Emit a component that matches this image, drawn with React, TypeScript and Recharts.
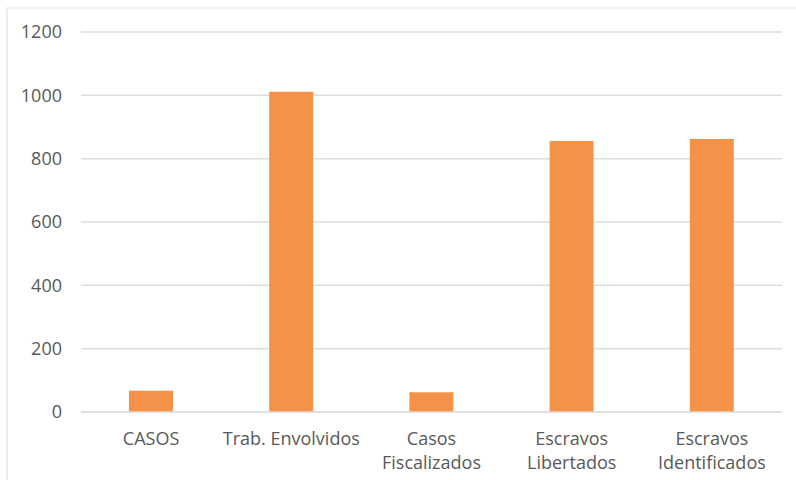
import { BarChart, Bar, XAxis, YAxis, CartesianGrid } from 'recharts';

const categories = ['CASOS', 'Trab. Envolvidos', 'Casos\nFiscalizados', 'Escravos\nLibertados', 'Escravos\nIdentificados'];
const values = [67, 1011, 62, 856, 862];
const yTicks = [0, 200, 400, 600, 800, 1000, 1200];

const data = categories.map((name, i) => ({ name, value: values[i] }));

const textColor = '#595959';
const font = '"Open Sans", Lato, sans-serif';

function CategoryTick({ x, y, payload }: any) {
  const lines = String(payload.value).split('\n');
  return (
    <text x={x} y={y} textAnchor="middle" fill={textColor} fontSize={18} fontFamily={font}>
      {lines.map((line, i) => (
        <tspan key={i} x={x} dy={i === 0 ? 33 : 24}>
          {line}
        </tspan>
      ))}
    </text>
  );
}

export default function App() {
  return (
    <div style={{ position: 'absolute', left: 0, top: 0, width: 796, height: 480, background: '#fff' }}>
      <div
        style={{
          position: 'absolute',
          left: 6,
          top: 7,
          right: 0,
          bottom: 0,
          borderLeft: '2px solid #ececec',
          borderTop: '2px solid #f2f2f2',
        }}
      />
      <BarChart
        width={796}
        height={480}
        data={data}
        margin={{ top: 32, right: 14, left: 0, bottom: 0 }}
        barSize={44}
        style={{ position: 'absolute', left: 0, top: 0 }}
      >
        <CartesianGrid vertical={false} stroke="#dedede" strokeWidth={1.5} />
        <XAxis
          dataKey="name"
          height={68}
          axisLine={{ stroke: '#dedede', strokeWidth: 1.5 }}
          tickLine={false}
          tickSize={0}
          tickMargin={0}
          interval={0}
          tick={<CategoryTick />}
        />
        <YAxis
          width={81}
          domain={[0, 1200]}
          ticks={yTicks}
          axisLine={false}
          tickLine={false}
          tickSize={0}
          tickMargin={19}
          tick={{ fill: textColor, fontSize: 18, fontFamily: font }}
        />
        <Bar dataKey="value" fill="#F4924A" isAnimationActive={false} />
      </BarChart>
    </div>
  );
}
